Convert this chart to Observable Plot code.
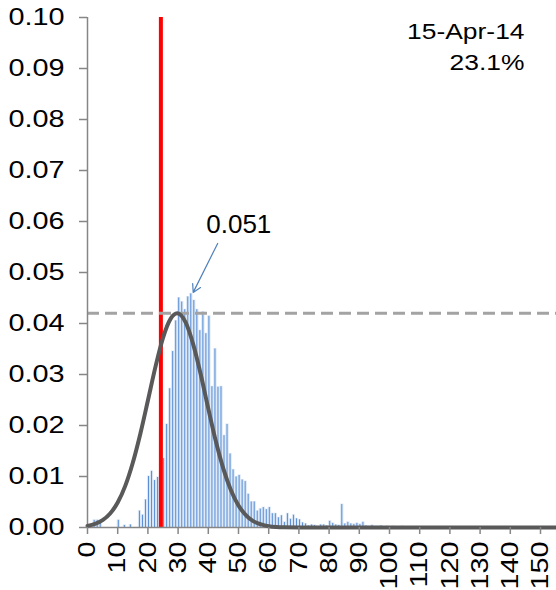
<!DOCTYPE html>
<html>
<head>
<meta charset="utf-8">
<script src="https://cdn.jsdelivr.net/npm/d3@7"></script>
<script src="https://cdn.jsdelivr.net/npm/@observablehq/plot@0.6"></script>
<style>
  html, body { margin: 0; padding: 0; background: #fff; }
  #chart { width: 556px; height: 590px; }
</style>
</head>
<body>
<div id="chart"></div>
<script>
// ---- data ----
// histogram bins: bin k covers [k, k+1)
const binStart = [
  0,1,2,3,4,5,6,7,8,9,10,11,12,13,14,15,16,17,18,19,
  20,21,22,23,24,25,26,27,28,29,30,31,32,33,34,35,36,37,38,39,
  40,41,42,43,44,45,46,47,48,49,50,51,52,53,54,55,56,57,58,59,
  60,61,62,63,64,65,66,67,68,69,70,71,72,73,74,75,76,77,78,79,
  80,81,82,83,84,85,86,87,88,89,90,91,92,93,94,95,96,97,98,99,
  100,101,102,103,104,105,106,107,108,109,110
];
const binDensity = [
  0,0,0.0014,0.0014,0.0012,0,0,0,0,0,0.0014,0,0.0004,0,0.0005,0,0,0.0032,0.0024,0.0054,
  0.0100,0.0110,0.0092,0.0098,0.0110,0.0135,0.0202,0.0272,0.0345,0.0405,0.0450,0.0442,0.0427,0.0452,0.0458,0.0445,0.0427,0.0386,0.0422,0.0380,
  0.0414,0.0276,0.0350,0.0275,0.0276,0.0180,0.0202,0.0144,0.0113,0.0099,0.0102,0.0093,0.0090,0.0065,0.0050,0.0050,0.0032,0.0036,0.0039,0.0035,
  0.0039,0.0027,0.0027,0.0019,0.0023,0.0010,0.0027,0.0016,0.0024,0.0017,0.0015,0.0009,0.0007,0.0003,0.0005,0.0004,0.0002,0.0005,0.0005,0.0003,
  0.0012,0.0008,0.0005,0.0004,0.0045,0.0007,0.0010,0.0007,0.0006,0.0008,0.0006,0.0010,0.0003,0.0002,0.0004,0.0002,0.0002,0.0003,0.0001,0.0002,
  0.0001,0.0002,0.0001,0.0001,0.0002,0.0001,0.0001,0.0001,0.0001,0.0001,0.0001
];
// fitted normal curve
const curveX = [0,2.5,5,7.5,10,12.5,15,17.5,20,22.5,25,27.5,29.7,32.5,35,37.5,40,42.5,45,47.5,50,52.5,55,57.5,60,62.5,65,70,155.3];
const curveY = [0.00032,0.0007,0.00143,0.00274,0.00489,0.00816,0.0127,0.0184,0.0249,0.0315,0.0372,0.0409,0.0420,0.0402,0.0359,0.0300,0.0233,0.0169,0.0115,0.0073,0.0043,0.0024,0.0012,0.0006,0.00026,0.0001,0.00003,0,0];
const redLineX = [24.3];
const peakLevel = [0.042];
const noteLabel = ["0.051"];
const noteTextX = [50.1], noteTextY = [0.0577];
const noteFromX = [43.1], noteFromY = [0.0557];
const noteToX = [35.0], noteToY = [0.0461];
const dateLabel = ["15-Apr-14"];
const pctLabel = ["23.1%"];
const xTicks = [0,10,20,30,40,50,60,70,80,90,100,110,120,130,140,150];
const yTicks = [0,0.01,0.02,0.03,0.04,0.05,0.06,0.07,0.08,0.09,0.10];

const bins = binStart.map((x, i) => ({x, v: binDensity[i]})).filter(d => d.v > 0);
const curve = curveX.map((x, i) => ({x, y: curveY[i]}));
const note = noteLabel.map((label, i) => ({
  label, tx: noteTextX[i], ty: noteTextY[i],
  x1: noteFromX[i], y1: noteFromY[i], x2: noteToX[i], y2: noteToY[i]
}));

const axisGray = "#868686";

const chart = Plot.plot({
  width: 556,
  height: 590,
  marginLeft: 87,
  marginRight: 0,
  marginTop: 17,
  marginBottom: 63,
  x: {domain: [0, 155.3]},
  y: {domain: [0, 0.1]},
  style: {fontFamily: "'Liberation Sans', Arial, sans-serif", fontSize: "24px", color: "#000", background: "#fff"},
  marks: [
    // bar halo
    Plot.rectY(bins, {x1: "x", x2: d => d.x + 1, y: "v", fill: "#dbe7f6", stroke: "#dbe7f6", strokeWidth: 1, insetLeft: 0, insetRight: 0.8}),
    // bars
    Plot.rectY(bins, {x1: "x", x2: d => d.x + 1, y: "v", fill: "#5b8fd6", insetLeft: 0.6, insetRight: 1.4}),
    Plot.ruleX(redLineX, {y1: 0, y2: 0.1, stroke: "#ff0000", strokeWidth: 4}),
    Plot.ruleY(peakLevel, {stroke: "#a3a3a3", strokeWidth: 3, strokeDasharray: "12,6"}),
    // axes lines
    Plot.ruleX([0], {y1: 0, y2: 0.1, stroke: axisGray, strokeWidth: 1.5}),
    Plot.ruleY([0], {stroke: axisGray, strokeWidth: 1.5}),
    Plot.line(curve, {x: "x", y: "y", stroke: "#595959", strokeWidth: 4, curve: "monotone-x"}),
    Plot.arrow(note, {x1: "x1", y1: "y1", x2: "x2", y2: "y2", stroke: "#4f81bd", strokeWidth: 1.2, headLength: 11}),
    Plot.text(note, {x: "tx", y: "ty", text: "label", textAnchor: "middle", lineAnchor: "bottom", fontSize: 26, fill: "#000"}),
    Plot.text(dateLabel, {frameAnchor: "top-right", dx: -32, dy: 21, lineAnchor: "bottom", textAnchor: "end", fontSize: 22, fill: "#000"}),
    Plot.text(pctLabel, {frameAnchor: "top-right", dx: -32, dy: 52, lineAnchor: "bottom", textAnchor: "end", fontSize: 22, fill: "#000"}),
    Plot.axisX({ticks: xTicks, tickRotate: -90, tickSize: 7, tickPadding: 7, stroke: axisGray, fill: "#000", fontSize: 24, label: null, strokeWidth: 1.5}),
    Plot.axisY({ticks: yTicks, tickFormat: d3.format(".2f"), tickSize: 8, tickPadding: 15, stroke: axisGray, fill: "#000", fontSize: 24, label: null, strokeWidth: 1.5})
  ]
});

document.getElementById("chart").append(chart);

// widen glyphs like the reference rendering
const STRETCH = 1.2;
chart.querySelectorAll("text").forEach(t => {
  if (noteLabel.includes(t.textContent)) return;
  const len = t.getComputedTextLength();
  if (len > 0) {
    t.setAttribute("textLength", (len * STRETCH).toFixed(1));
    t.setAttribute("lengthAdjust", "spacingAndGlyphs");
  }
});
</script>
</body>
</html>
